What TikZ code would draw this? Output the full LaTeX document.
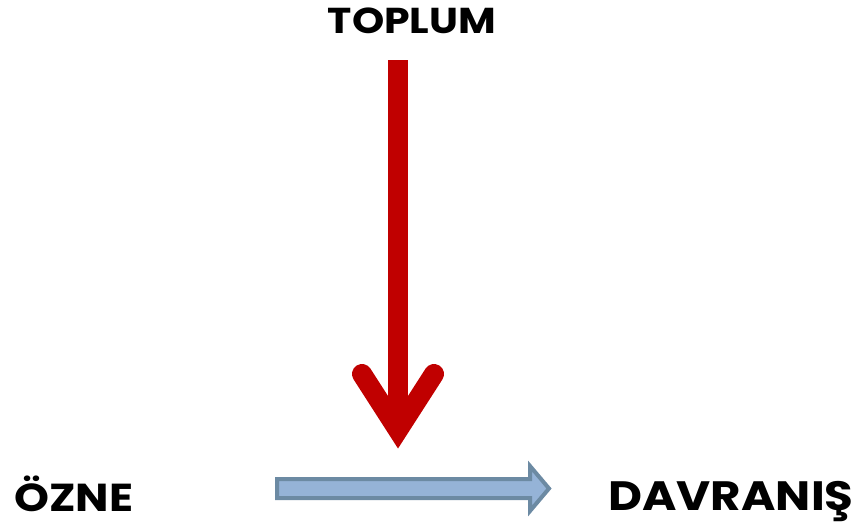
\documentclass[tikz,border=0pt]{standalone}
\usepackage{fontspec}
\newfontfamily\wordfont{Poppins}[UprightFont={* Bold}, FakeStretch=1.14]
\usepackage{tikz}

\definecolor{darkred}{HTML}{C00000}
\definecolor{arrowfill}{HTML}{95B3D7}
\definecolor{arrowedge}{HTML}{6C8AA3}

\begin{document}
\begin{tikzpicture}[
    x=1pt, y=-1pt, % pixel units, y pointing down
    wordnode/.style={font=\wordfont\fontsize{#1}{40}\selectfont, inner sep=0pt, anchor=base}, % big bold words
    redline/.style={draw=darkred, line width=20pt}, % thick red stroke
    blockarrow/.style={draw=arrowedge, fill=arrowfill, line width=4pt, line join=miter} % blue block arrow
]
\useasboundingbox (0,0) rectangle (854,528);

\node[wordnode=36] (toplum) at (412,33) {TOPLUM};
\node[wordnode=39] (ozne) at (74,511.5) {ÖZNE};
\node[wordnode=41] (davranis) at (731,510.5) {DAVRANIŞ};

% red arrow coming down from TOPLUM
\coordinate (redtop) at (398,60);
\coordinate (redtip) at (398,430);
\coordinate (barbl) at (362,374);
\coordinate (barbr) at (434,374);
\draw[redline] (redtop) -- (redtip);
\draw[redline, line cap=round, line join=miter] (barbl) -- (redtip) -- (barbr);

% block arrow from ÖZNE to DAVRANIŞ
\draw[blockarrow] (277,479) -- (530,479) -- (530,466) -- (549,488.5)
    -- (530,511) -- (530,498) -- (277,498) -- cycle;
\end{tikzpicture}
\end{document}
